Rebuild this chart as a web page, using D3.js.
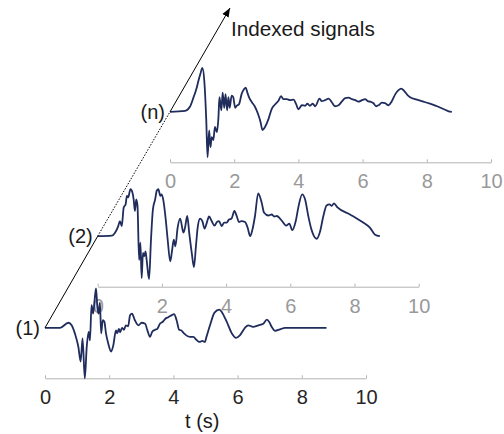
<!DOCTYPE html>
<html><head><meta charset="utf-8">
<script src="https://cdn.jsdelivr.net/npm/d3@7"></script>
<style>
html,body{margin:0;padding:0;background:#fff;}
svg{display:block;font-family:"Liberation Sans",Arial,Helvetica,sans-serif;}
</style></head>
<body>
<svg id="chart" width="504" height="434"></svg>
<script>
// ---- data ----
const xTicks = [0, 2, 4, 6, 8, 10];
const panelLabels = ["(1)", "(2)", "(n)"];
const xLabel = "t (s)";
const arrowLabel = "Indexed signals";

const signal1 = [
 [0,0],[0.47,0],[0.73,0.1],[0.83,0.05],[0.93,-0.11],[1.04,-0.38],[1.11,-0.67],[1.17,-0.21],
 [1.24,-1.0],[1.30,-0.38],[1.36,-0.08],[1.40,-0.25],[1.45,0.45],[1.5,0.28],[1.55,0.58],
 [1.59,0.78],[1.63,0.42],[1.67,0.28],[1.71,0.5],[1.75,-0.11],[1.80,0.15],[1.85,0.12],
 [1.90,-0.11],[1.97,-0.31],[2.06,-0.47],[2.13,-0.34],[2.21,-0.05],[2.25,-0.11],[2.30,-0.02],
 [2.34,-0.09],[2.40,0.0],[2.46,-0.04],[2.52,0.05],[2.59,0.03],[2.65,0.25],[2.71,0.28],
 [2.80,0.15],[2.91,0.05],[3.01,0.1],[3.12,0.08],[3.19,-0.05],[3.27,-0.18],[3.34,-0.08],
 [3.43,-0.04],[3.50,-0.02],[3.58,0.08],[3.67,0.12],[3.75,0.18],[3.84,0.21],[3.95,0.25],
 [4.02,0.27],[4.10,0.15],[4.18,-0.04],[4.24,-0.05],[4.33,-0.11],[4.40,-0.15],[4.52,-0.18],
 [4.62,-0.18],[4.72,-0.24],[4.81,-0.28],[4.90,-0.26],[4.98,-0.28],[5.03,-0.18],[5.14,0.05],
 [5.28,0.3],[5.43,0.36],[5.52,0.3],[5.66,0.12],[5.82,-0.11],[5.95,-0.2],[6.07,-0.15],
 [6.23,0.0],[6.33,0.05],[6.48,0.02],[6.65,0.05],[6.8,0.08],[6.91,0.16],[6.99,0.11],
 [7.06,0.02],[7.17,-0.06],[7.32,-0.03],[7.48,0],[8.77,0]
];
const signal2 = [
 [0,0],[0.44,0.01],[0.54,0.07],[0.64,0.2],[0.69,0.3],[0.75,0.2],[0.81,0.57],[0.87,0.63],
 [0.91,0.8],[0.95,0.77],[1.02,0.93],[1.08,0.87],[1.12,0.73],[1.16,0.5],[1.20,0.73],[1.24,0.6],
 [1.29,-0.47],[1.33,-0.13],[1.37,-0.83],[1.41,-0.33],[1.45,-0.4],[1.49,-0.3],[1.53,-0.5],
 [1.60,-0.85],[1.66,-0.07],[1.72,0.53],[1.79,0.73],[1.84,0.9],[1.89,0.93],[1.95,0.8],
 [1.99,0.83],[2.04,0.73],[2.12,0.33],[2.18,-0.07],[2.26,-0.5],[2.32,-0.27],[2.37,-0.07],
 [2.42,-0.2],[2.49,0.17],[2.57,0.35],[2.67,0.07],[2.72,0.17],[2.79,0.4],[2.85,0.07],
 [2.93,-0.33],[3.0,-0.61],[3.06,-0.2],[3.12,0.2],[3.19,0.35],[3.26,0.3],[3.33,0.15],
 [3.40,0.27],[3.47,0.39],[3.55,0.3],[3.64,0.21],[3.71,0.28],[3.78,0.3],[3.86,0.2],
 [3.94,0.27],[4.02,0.27],[4.09,0.33],[4.17,0.35],[4.26,0.5],[4.33,0.4],[4.40,0.28],
 [4.48,0.3],[4.59,0.28],[4.67,0.17],[4.75,0.0],[4.82,0.13],[4.90,0.4],[5.0,0.85],
 [5.11,0.66],[5.18,0.47],[5.32,0.41],[5.42,0.43],[5.50,0.39],[5.58,0.4],[5.68,0.35],
 [5.78,0.27],[5.87,0.21],[5.97,0.25],[6.06,0.12],[6.17,0.3],[6.25,0.57],[6.37,0.83],
 [6.46,0.73],[6.56,0.4],[6.66,0.13],[6.82,-0.05],[6.93,0.1],[7.03,0.4],[7.13,0.61],
 [7.22,0.63],[7.29,0.6],[7.36,0.65],[7.47,0.57],[7.86,0.43],[8.27,0.27],[8.48,0.17],
 [8.64,0.03],[8.79,0.0]
];
const signalN = [
 [0,0],[0.47,0.02],[0.62,0.1],[0.73,0.28],[0.83,0.47],[0.88,0.6],[0.95,0.76],[1.01,0.87],
 [1.07,0.6],[1.13,-0.17],[1.17,-0.9],[1.22,-0.37],[1.26,-0.7],[1.30,-0.5],[1.35,-0.56],
 [1.40,-0.3],[1.46,-0.4],[1.51,-0.1],[1.54,0.29],[1.60,0.03],[1.64,0.38],[1.69,0.08],
 [1.73,0.35],[1.78,0.03],[1.82,0.29],[1.86,0.08],[1.92,0.32],[1.97,0.29],[2.03,0.08],
 [2.08,0.12],[2.15,0.15],[2.23,0.35],[2.31,0.45],[2.36,0.48],[2.41,0.38],[2.46,0.29],
 [2.55,0.19],[2.63,0.12],[2.74,-0.04],[2.82,-0.2],[2.88,-0.36],[2.96,-0.3],[3.07,-0.14],
 [3.17,0.06],[3.28,0.15],[3.38,0.22],[3.46,0.31],[3.53,0.25],[3.64,0.25],[3.74,0.23],
 [3.85,0.24],[3.93,0.15],[4.0,0.05],[4.11,0.13],[4.21,0.12],[4.28,0.16],[4.36,0.12],
 [4.45,0.16],[4.52,0.11],[4.66,0.26],[4.73,0.21],[4.83,0.23],[4.94,0.26],[5.05,0.18],
 [5.14,0.11],[5.25,0.13],[5.35,0.2],[5.46,0.27],[5.56,0.28],[5.67,0.25],[5.77,0.23],
 [5.87,0.2],[5.98,0.23],[6.08,0.25],[6.16,0.21],[6.24,0.2],[6.34,0.17],[6.42,0.11],
 [6.5,0.13],[6.6,0.18],[6.7,0.17],[6.81,0.13],[6.91,0.21],[7.02,0.35],[7.12,0.43],
 [7.2,0.46],[7.3,0.41],[7.4,0.33],[7.48,0.29],[7.69,0.24],[7.9,0.2],[8.1,0.16],
 [8.36,0.1],[8.57,0.04],[8.68,0.01],[8.78,0.0]
];
const signals = [signal1, signal2, signalN];

// ---- layout ----
const svg = d3.select("#chart");
const panelOrigins = [ {x:45, y:378.3}, {x:97.7, y:286.7}, {x:170, y:162.3} ];
const axisWidth = 321, halfHeight = 50.5;
const lineColor = "#1f2c5c";
const fontSize = 20;

const panels = panelOrigins.map((o, i) => {
  const x = d3.scaleLinear().domain([0, 10]).range([o.x, o.x + axisWidth]);
  const y = d3.scaleLinear().domain([-1, 1]).range([o.y, o.y - 2 * halfHeight]);
  return {x, y, o, i};
});

// draw back to front
[2, 1, 0].forEach(i => {
  const p = panels[i];
  const g = svg.append("g");
  const axis = d3.axisBottom(p.x).tickValues(xTicks).tickFormat(d3.format("d"))
    .tickSizeInner(-3).tickSizeOuter(0).tickPadding(12);
  const ag = g.append("g").attr("transform", `translate(0,${p.o.y})`).call(axis);
  ag.select(".domain").attr("stroke", "#b3b3b3").attr("stroke-width", 1);
  ag.selectAll(".tick line").attr("stroke", "#b3b3b3");
  ag.selectAll(".tick text")
    .attr("font-size", fontSize)
    .attr("font-family", "Liberation Sans, Arial, sans-serif")
    .attr("fill", i === 0 ? "#262626" : "#999999");

  const line = d3.line().x(d => p.x(d[0])).y(d => p.y(d[1])).curve(d3.curveMonotoneX);
  g.append("path").datum(signals[i]).attr("d", line)
    .attr("fill", "none").attr("stroke", lineColor).attr("stroke-width", 1.8)
    .attr("stroke-linejoin", "round");

  g.append("text").text(panelLabels[i])
    .attr("x", p.x(0) - 5).attr("y", p.y(0)).attr("dy", "0.35em")
    .attr("text-anchor", "end").attr("font-size", fontSize).attr("fill", "#1a1a1a");
});

// indexing arrow through the starting points
const starts = panels.map(p => [p.x(signals[p.i][0][0]), p.y(signals[p.i][0][1])]);
const tip = [230, 8];
svg.append("defs").append("marker").attr("id", "ah")
  .attr("viewBox", "0 0 10 10").attr("refX", 10).attr("refY", 5)
  .attr("markerWidth", 9).attr("markerHeight", 9).attr("markerUnits", "userSpaceOnUse")
  .attr("orient", "auto")
  .append("path").attr("d", "M0,1 L10,5 L0,9 Z").attr("fill", "#000");
svg.append("line").attr("x1", starts[0][0]).attr("y1", starts[0][1])
  .attr("x2", starts[1][0]).attr("y2", starts[1][1]).attr("stroke", "#000").attr("stroke-width", 1);
svg.append("line").attr("x1", starts[1][0]).attr("y1", starts[1][1])
  .attr("x2", starts[2][0]).attr("y2", starts[2][1]).attr("stroke", "#000").attr("stroke-width", 1)
  .attr("stroke-dasharray", "1.5,1.5");
svg.append("line").attr("x1", starts[2][0]).attr("y1", starts[2][1])
  .attr("x2", tip[0]).attr("y2", tip[1]).attr("stroke", "#000").attr("stroke-width", 1)
  .attr("marker-end", "url(#ah)");

svg.append("text").text(arrowLabel).attr("x", 231).attr("y", 36)
  .attr("font-size", 20.7).attr("fill", "#1a1a1a");

svg.append("text").text(xLabel)
  .attr("x", panels[0].x(0) + (panels[0].x(10) - panels[0].x(0)) * 0.49).attr("y", 428)
  .attr("text-anchor", "middle").attr("font-size", fontSize).attr("fill", "#1a1a1a");
</script>
</body></html>
